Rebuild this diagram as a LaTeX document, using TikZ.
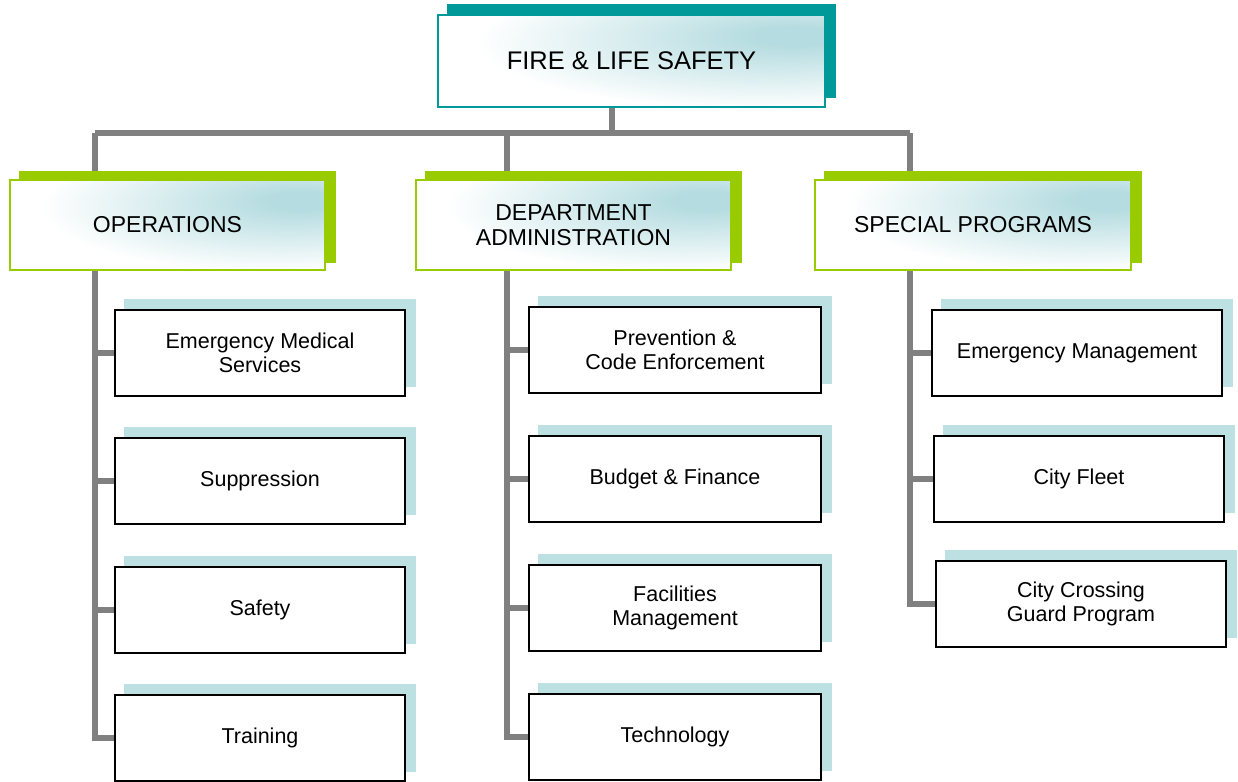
\documentclass[tikz,border=0pt]{standalone}
\usepackage{fontspec}
\setmainfont{Liberation Sans}
\usetikzlibrary{positioning,backgrounds}

\definecolor{fireteal}{HTML}{009999}
\definecolor{leafgreen}{HTML}{99CC00}
\definecolor{paleblue}{HTML}{BDE0E3}
\definecolor{glow}{HTML}{B5DCE0}
\definecolor{linegray}{HTML}{808080}

\pgfdeclareradialshading{glowshade}{\pgfpoint{22bp}{14bp}}{%
  color(0bp)=(glow); color(5bp)=(glow); color(36bp)=(white); color(130bp)=(white)}

\tikzset{
  headbox/.style={draw=fireteal, line width=1.5pt, shading=glowshade,
    minimum width=387pt, minimum height=92pt, inner sep=0pt,
    font=\fontsize{25.5}{28}\selectfont},
  groupbox/.style={draw=leafgreen, line width=2pt, shading=glowshade,
    minimum width=315pt, minimum height=90pt, inner sep=0pt, align=center,
    font=\fontsize{23}{25}\selectfont},
  unitbox/.style={draw=black, line width=1.3pt, fill=white,
    minimum width=290pt, minimum height=86pt, inner sep=0pt, align=center,
    font=\fontsize{21.5}{24}\selectfont},
  conn/.style={draw=linegray, line width=6pt},
}

\begin{document}
\begin{tikzpicture}[x=1pt, y=-1pt]
\useasboundingbox (0,0) rectangle (1238,781);

% top
\node[headbox] (fls) at (631.5,61) {FIRE \& LIFE SAFETY};

% second row
\node[groupbox] (ops) at (167.5,225) {OPERATIONS};
\node[groupbox] (adm) at (573.5,225) {DEPARTMENT\\ADMINISTRATION};
\node[groupbox, minimum width=316pt] (spc) at (973,225) {SPECIAL PROGRAMS};

% operations
\node[unitbox] (ems)   at (260,353) {Emergency Medical\\Services};
\node[unitbox] (supp)  at (260,481) {Suppression};
\node[unitbox] (safe)  at (260,610) {Safety};
\node[unitbox] (train) at (260,738) {Training};

% administration
\node[unitbox, minimum width=292pt] (prev)  at (675,350) {Prevention \&\\Code Enforcement};
\node[unitbox, minimum width=292pt] (budg)  at (675,479) {Budget \& Finance};
\node[unitbox, minimum width=292pt] (facil) at (675,608) {Facilities\\Management};
\node[unitbox, minimum width=292pt] (tech)  at (675,737) {Technology};

% special programs
\node[unitbox] (emgt)  at (1077,353) {Emergency Management};
\node[unitbox] (fleet) at (1079,479) {City Fleet};
\node[unitbox] (cross) at (1081,604) {City Crossing\\Guard Program};

\coordinate (bus) at (612,133);
\coordinate (opsbar) at (95,133);
\coordinate (admbar) at (507,133);
\coordinate (spcbar) at (910,133);

\begin{pgfonlayer}{background}
  % connectors
  \draw[conn] (fls.south -| bus) -- (bus);
  \draw[conn] (opsbar) -- (spcbar);
  \draw[conn] (opsbar) |- (train.west);
  \draw[conn] (admbar) |- (tech.west);
  \draw[conn] (spcbar) |- (cross.west);
  \foreach \u in {ems,supp,safe}
    \draw[conn] (opsbar |- \u.west) -- (\u.west);
  \foreach \u in {prev,budg,facil}
    \draw[conn] (admbar |- \u.west) -- (\u.west);
  \foreach \u in {emgt,fleet}
    \draw[conn] (spcbar |- \u.west) -- (\u.west);
  % shadows
  \fill[fireteal] ([shift={(10pt,10pt)}]fls.south west) rectangle ([shift={(10pt,10pt)}]fls.north east);
  \foreach \g in {ops,adm,spc}
    \fill[leafgreen] ([shift={(10pt,8pt)}]\g.south west) rectangle ([shift={(10pt,8pt)}]\g.north east);
  \foreach \u in {ems,supp,safe,train,prev,budg,facil,tech,emgt,fleet,cross}
    \fill[paleblue] ([shift={(10pt,10pt)}]\u.south west) rectangle ([shift={(10pt,10pt)}]\u.north east);
\end{pgfonlayer}
\end{tikzpicture}
\end{document}
